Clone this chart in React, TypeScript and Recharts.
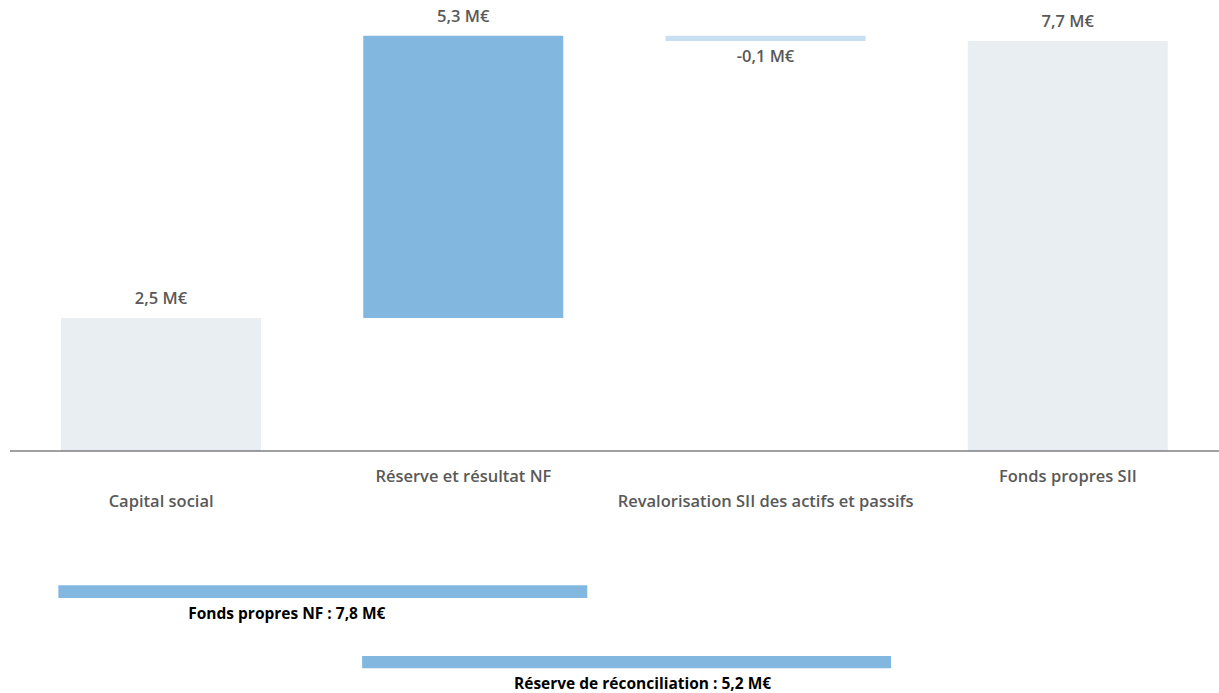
import { BarChart, Bar, XAxis, YAxis, Cell, LabelList, ReferenceArea } from "recharts";

const categories = [
  "Capital social",
  "Réserve et résultat NF",
  "Revalorisation SII des actifs et passifs",
  "Fonds propres SII",
];
const values = [2.5, 5.3, -0.1, 7.7];
const isTotal = [false, false, false, true];
const barColors = ["#E9EEF3", "#82B8E0", "#C8DFF1", "#E9EEF3"];

// groupings shown under the chart (span in category index units)
const groupLabels = ["Fonds propres NF : 7,8 M€", "Réserve de réconciliation : 5,2 M€"];
const groupSpans = [
  [-0.34, 1.41],
  [0.665, 2.415],
];

// layout of the group bands below the axis (in value units) and label shifts
const groupBandY = [
  [-2.52, -2.76],
  [-3.85, -4.08],
];
const groupLabelDx = [-36, 16];

const fmt = (v: number) => `${String(v).replace(".", ",")} M€`;

let run = 0;
const data = categories.map((name, i) => {
  const v = values[i];
  let lo: number, hi: number;
  if (isTotal[i]) {
    lo = 0;
    hi = v;
    run = v;
  } else {
    lo = Math.min(run, run + v);
    hi = Math.max(run, run + v);
    run += v;
  }
  return { name, pos: i, range: [lo, hi] };
});

const FONT = "'Open Sans', 'DejaVu Sans', sans-serif";

const CatTick = (props: any) => {
  const { x, y, payload, index } = props;
  const dy = index % 2 === 0 ? 49 : 24;
  return (
    <text x={x} y={y + dy} textAnchor="middle" dominantBaseline="central"
      fill="#595959" fontFamily={FONT} fontWeight={600} fontSize={16.5}>
      {payload.value}
    </text>
  );
};

const ValueLabel = (props: any) => {
  const { x, y, width, height, index } = props;
  const v = values[index];
  const ty = v >= 0 ? y - 20 : y + height + 15;
  return (
    <text x={x + width / 2} y={ty} textAnchor="middle" dominantBaseline="central"
      fill="#595959" fontFamily={FONT} fontWeight={600} fontSize={16.5}>
      {fmt(v)}
    </text>
  );
};

export default function App() {
  return (
    <div style={{ position: "absolute", left: 0, top: 0, width: 1219, height: 693, background: "#fff" }}>
      <BarChart width={1219} height={693} data={data}
        margin={{ top: 25, right: 0, bottom: 182, left: 10 }}>
        <XAxis xAxisId="cat" dataKey="name" height={60} tickLine={false} tickSize={0} tickMargin={0}
          axisLine={{ stroke: "#404040", strokeWidth: 1 }} tick={<CatTick />} interval={0} />
        <XAxis xAxisId="num" dataKey="pos" type="number" domain={[-0.5, 3.5]} allowDataOverflow hide />
        <YAxis hide domain={[0, 8]} />
        <Bar xAxisId="cat" dataKey="range" barSize={200} isAnimationActive={false}>
          {data.map((_, i) => (
            <Cell key={i} fill={barColors[i]} />
          ))}
          <LabelList dataKey="range" content={<ValueLabel />} />
        </Bar>
        {groupLabels.map((lbl, i) => (
          <ReferenceArea key={lbl} xAxisId="num" x1={groupSpans[i][0]} x2={groupSpans[i][1]}
            y1={groupBandY[i][1]} y2={groupBandY[i][0]} ifOverflow="visible"
            fill="#82B8E0" fillOpacity={1} stroke="none"
            label={{
              content: (p: any) => {
                const vb = p.viewBox;
                return (
                  <text x={vb.x + vb.width / 2 + groupLabelDx[i]} y={vb.y + vb.height + 15}
                    textAnchor="middle" dominantBaseline="central" fill="#000"
                    fontFamily={FONT} fontWeight={700} fontSize={15.5}>
                    {lbl}
                  </text>
                );
              },
            }} />
        ))}
      </BarChart>
    </div>
  );
}
